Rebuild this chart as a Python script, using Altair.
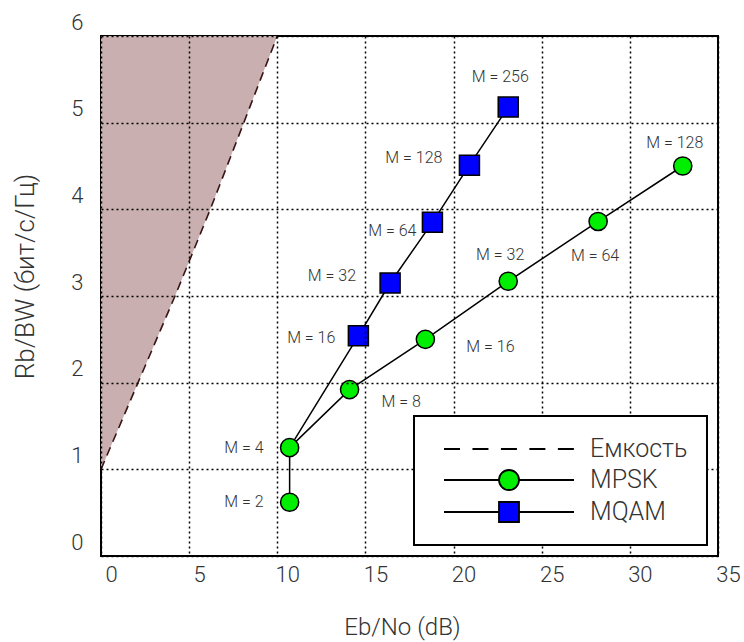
import altair as alt
import pandas as pd

# ---- data ----
m_psk = [2, 4, 8, 16, 32, 64, 128]
ebno_psk = [10.7, 10.7, 14.1, 18.4, 23.1, 28.2, 33.0]
rb_psk = [0.62, 1.25, 1.92, 2.50, 3.17, 3.86, 4.50]

m_qam = [4, 16, 32, 64, 128, 256]
ebno_qam = [10.7, 14.6, 16.4, 18.8, 20.9, 23.1]
rb_qam = [1.25, 2.54, 3.15, 3.85, 4.51, 5.18]

cap_ebno = [0.0, 2.1, 4.2, 6.2, 8.1, 10.0]
cap_rb = [1.0, 2.0, 3.0, 4.0, 5.0, 6.0]

x_ticks = [0, 5, 10, 15, 20, 25, 30, 35]
y_ticks = [0, 1, 2, 3, 4, 5, 6]
legend_names = ["Емкость", "MPSK", "MQAM"]

FONT = "Roboto"
FW = 300
TXT = "#333333"
GREEN = "#00ee00"
BLUE = "#0000ff"

psk = pd.DataFrame({"x": ebno_psk, "y": rb_psk, "m": m_psk})
qam = pd.DataFrame({"x": ebno_qam, "y": rb_qam, "m": m_qam})
cap = pd.DataFrame({"x": cap_ebno, "y": cap_rb, "x0": [0.0] * len(cap_rb)})
leg = pd.DataFrame({"s": legend_names})

xs = alt.Scale(domain=[0, 35], nice=False, zero=False)
ys = alt.Scale(domain=[0, 6], nice=False, zero=False)

X = alt.X("x:Q", scale=xs, axis=alt.Axis(
    values=x_ticks, format="d", title="Eb/No (dB)", labelOffset=10,
    labelPadding=8, titleX=301, titleY=71, titleBaseline="middle",
    titleAlign="center", titleFontSize=24, zindex=1))
Y = alt.Y("y:Q", scale=ys, axis=alt.Axis(
    values=y_ticks, format="d", title="Rb/BW (бит/с/Гц)", labelOffset=-14,
    labelPadding=18, titleX=-76, titleY=240, titleAngle=270,
    titleBaseline="middle", titleAlign="center", titleFontSize=26, zindex=1))
Xp = alt.X("x:Q", scale=xs)
Yp = alt.Y("y:Q", scale=ys)

area = alt.Chart(cap).mark_area(orient="horizontal", color="#c9afaf").encode(
    y=Y, x=X, x2="x0:Q")
cap_line = alt.Chart(cap).mark_line(
    color="#3a1414", strokeDash=[9, 6], strokeWidth=1.6, orient="horizontal"
).encode(y=Yp, x=Xp, order="y:Q")

qam_line = alt.Chart(qam).mark_line(color="black", strokeWidth=1.5).encode(
    x=Xp, y=Yp, order="m:Q")
psk_line = alt.Chart(psk).mark_line(color="black", strokeWidth=1.5).encode(
    x=Xp, y=Yp, order="m:Q")
qam_pts = alt.Chart(qam).transform_filter(alt.datum.m >= 16).mark_point(
    shape="square", filled=True, fill=BLUE, stroke="black", strokeWidth=1.5,
    size=400, opacity=1).encode(x=Xp, y=Yp)
psk_pts = alt.Chart(psk).mark_point(
    shape="circle", filled=True, fill=GREEN, stroke="black", strokeWidth=1.5,
    size=330, opacity=1).encode(x=Xp, y=Yp)


def tag(xv, yv, mv, i, dx, dy, align):
    df = pd.DataFrame({"x": [xv[i]], "y": [yv[i]], "t": [f"M = {mv[i]}"]})
    return alt.Chart(df).mark_text(
        dx=dx, dy=dy, align=align, baseline="middle", font=FONT,
        fontWeight=FW, fontSize=16, color=TXT).encode(x=Xp, y=Yp, text="t:N")


tags = [
    tag(ebno_psk, rb_psk, m_psk, 0, -26, 0, "right"),
    tag(ebno_psk, rb_psk, m_psk, 1, -26, 0, "right"),
    tag(ebno_psk, rb_psk, m_psk, 2, 32, 12, "left"),
    tag(ebno_psk, rb_psk, m_psk, 3, 41, 8, "left"),
    tag(ebno_psk, rb_psk, m_psk, 4, -8, -26, "center"),
    tag(ebno_psk, rb_psk, m_psk, 5, -3, 35, "center"),
    tag(ebno_psk, rb_psk, m_psk, 6, -8, -23, "center"),
    tag(ebno_qam, rb_qam, m_qam, 1, -23, 2, "right"),
    tag(ebno_qam, rb_qam, m_qam, 2, -34, -7, "right"),
    tag(ebno_qam, rb_qam, m_qam, 3, -16, 9, "right"),
    tag(ebno_qam, rb_qam, m_qam, 4, -27, -7, "right"),
    tag(ebno_qam, rb_qam, m_qam, 5, -8, -30, "center"),
]

# legend symbols: custom paths (unit = sqrt(size)/2 px = 13 px)
sym_dash = "M-1,0H0.23M1.19,0H2.42M3.38,0H4.61M5.57,0H6.8M7.76,0H8.99"
sym_circ = ("M-1,0H3.23M4.77,0H9M4.77,0A0.77,0.77,0,1,1,3.23,0"
            "A0.77,0.77,0,1,1,4.77,0Z")
sym_sq = "M-1,0H3.23M4.77,0H9M3.23,-0.77H4.77V0.77H3.23Z"

lg = alt.Legend(
    title=None, orient="bottom-right", offset=11, zindex=2,
    symbolSize=676, symbolStrokeColor="black", symbolStrokeWidth=1.8,
    symbolOpacity=1, symbolOffset=10, labelOffset=119, padding=19,
    rowPadding=4)

legend_layer = alt.Chart(leg).mark_point(
    filled=True, strokeWidth=1.8, size=676, opacity=1
).encode(
    x=alt.value(-2000), y=alt.value(-2000),
    shape=alt.Shape("s:N", scale=alt.Scale(domain=legend_names,
                    range=[sym_dash, sym_circ, sym_sq]), legend=lg),
    fill=alt.Fill("s:N", scale=alt.Scale(domain=legend_names,
                  range=["transparent", GREEN, BLUE]), legend=lg),
    stroke=alt.Stroke("s:N", scale=alt.Scale(domain=legend_names,
                      range=["black", "black", "black"]), legend=lg),
)

chart = alt.layer(area, cap_line, qam_line, psk_line, qam_pts, psk_pts,
                  *tags, legend_layer).properties(
    width=617, height=520,
    autosize=alt.AutoSizeParams(type="none"),
    padding={"left": 101, "top": 36, "right": 26, "bottom": 86},
).configure_view(
    stroke="black", strokeWidth=2
).configure_axis(
    grid=True, gridColor="black", gridDash=[2, 3], gridWidth=1.5,
    gridOpacity=1, ticks=False, domain=False,
    labelFont=FONT, labelFontSize=22, labelFontWeight=FW, labelColor=TXT,
    labelFlush=False, labelOverlap=False,
    titleFont=FONT, titleFontWeight=FW, titleColor=TXT,
).configure_legend(
    labelFont=FONT, labelFontSize=25, labelFontWeight=FW, labelColor=TXT,
    fillColor="white", strokeColor="black", strokeWidth=2, labelLimit=300,
)

chart.save("out.html", embed_options={"renderer": "svg", "actions": False})
